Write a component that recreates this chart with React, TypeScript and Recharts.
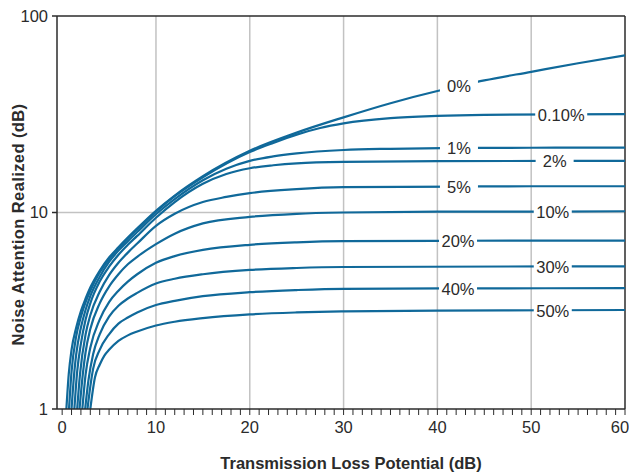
import {
  CartesianGrid,
  Line,
  LineChart,
  ReferenceDot,
  ReferenceLine,
  XAxis,
  YAxis,
} from "recharts";

type Pt = [number, number];

// [transmission loss potential dB, noise attenuation realized dB] per open area
const open0: Pt[] = [
  [0.45, 1], [0.7, 1.5], [1, 2.0], [1.5, 2.6], [2, 3.15], [2.5, 3.65], [3, 4.15],
  [4, 5.05], [5, 5.9], [6, 6.65], [7, 7.45], [8, 8.3], [10, 10.2], [12, 12.2],
  [15, 15.3], [20, 20.6], [25, 25.5], [30, 30.5], [35, 36], [40, 41.5],
  [42.3, 44], [45, 47], [50, 52], [55, 57.5], [60, 63],
];
const open01: Pt[] = [
  [0.73, 1], [1, 1.55], [1.5, 2.35], [2, 2.95], [2.5, 3.5], [3, 4.0], [4, 4.95],
  [5, 5.8], [6, 6.6], [7, 7.4], [8, 8.2], [10, 10.1], [12, 12.1], [15, 15.1],
  [20, 20.3], [22.5, 22.6], [25, 24.9], [27.5, 26.9], [30, 28.4], [35, 30.2],
  [40, 31.0], [45, 31.4], [53.2, 31.6], [60, 31.7],
];
const open1: Pt[] = [
  [1, 1], [1.3, 1.55], [1.5, 1.9], [2, 2.6], [2.5, 3.2], [3, 3.75], [4, 4.7],
  [5, 5.6], [6, 6.4], [7, 7.15], [8, 7.95], [10, 9.8], [12, 11.7], [15, 14.6],
  [17.5, 16.7], [20, 18.3], [22.5, 19.3], [25, 20.0], [30, 20.8], [35, 21.1],
  [42.3, 21.3], [50, 21.35], [60, 21.4],
];
const open2: Pt[] = [
  [1.3, 1], [1.6, 1.55], [2, 2.15], [2.5, 2.85], [3, 3.45], [4, 4.45], [5, 5.3],
  [6, 6.1], [7, 6.85], [8, 7.6], [10, 9.4], [12, 11.3], [15, 14.0], [17.5, 15.7],
  [20, 16.8], [22.5, 17.4], [25, 17.8], [30, 18.1], [40, 18.25], [52.5, 18.3],
  [60, 18.3],
];
const open5: Pt[] = [
  [1.6, 1], [1.9, 1.5], [2.5, 2.4], [3, 3.0], [4, 3.95], [5, 4.8], [6, 5.55],
  [7, 6.25], [8, 6.95], [10, 8.55], [12, 9.85], [15, 11.3], [17.5, 12.0],
  [20, 12.55], [25, 13.15], [30, 13.45], [42.3, 13.55], [50, 13.6], [60, 13.6],
];
const open10: Pt[] = [
  [1.85, 1], [2.2, 1.5], [2.5, 1.95], [3, 2.55], [4, 3.45], [5, 4.2], [6, 4.85],
  [7, 5.45], [8, 5.95], [10, 6.9], [12, 7.8], [15, 8.8], [20, 9.5], [25, 9.85],
  [30, 10.0], [40, 10.1], [52.3, 10.1], [60, 10.15],
];
const open20: Pt[] = [
  [2.15, 1], [2.5, 1.5], [3, 2.05], [4, 2.85], [5, 3.5], [6, 4.0], [7, 4.45],
  [8, 4.85], [10, 5.55], [12, 6.0], [15, 6.45], [20, 6.85], [25, 7.05],
  [30, 7.15], [42.2, 7.18], [60, 7.2],
];
const open30: Pt[] = [
  [2.45, 1], [2.8, 1.4], [3.3, 1.9], [4, 2.4], [5, 2.95], [6, 3.35], [7, 3.65],
  [8, 3.9], [10, 4.35], [12, 4.6], [15, 4.85], [20, 5.1], [25, 5.22],
  [30, 5.28], [52.3, 5.32], [60, 5.32],
];
const open40: Pt[] = [
  [2.7, 1], [3, 1.3], [3.3, 1.6], [4, 2.0], [5, 2.4], [6, 2.72], [7, 2.92],
  [8, 3.1], [10, 3.38], [12, 3.55], [15, 3.75], [20, 3.93], [25, 4.03],
  [30, 4.09], [42.2, 4.11], [60, 4.12],
];
const open50: Pt[] = [
  [3, 1], [3.5, 1.45], [4, 1.68], [4.5, 1.87], [5, 2.0], [6, 2.22], [7, 2.37],
  [8, 2.48], [10, 2.66], [12, 2.78], [15, 2.9], [20, 3.03], [25, 3.1],
  [30, 3.14], [40, 3.17], [52.3, 3.18], [60, 3.19],
];

const openLabels = ["0%", "0.10%", "1%", "2%", "5%", "10%", "20%", "30%", "40%", "50%"];
const openCurves = [open0, open01, open1, open2, open5, open10, open20, open30, open40, open50];
// TL position of each curve's inline tag
const labelTL = [42.3, 53.2, 42.3, 52.5, 42.3, 52.3, 42.2, 52.3, 42.2, 52.3];

const xTicks = Array.from({ length: 61 }, (_, i) => i);
const yTicks = [1, 10, 100];

const BLUE = "#10699a";
const INK = "#2b2b2b";
const FONT = "'Liberation Sans', Arial, sans-serif";

const CurveTag = (props: any) => {
  const { cx, cy, text } = props;
  const w = text.length > 3 ? 52 : 38;
  return (
    <g>
      <rect x={cx - w / 2} y={cy - 8} width={w} height={16} fill="#fff" />
      <text
        x={cx}
        y={cy}
        dy="0.38em"
        textAnchor="middle"
        fontFamily={FONT}
        fontSize={16.5}
        fill={INK}
      >
        {text}
      </text>
    </g>
  );
};

// only decades get a number; the last one is nudged in so it stays on the page
const XTick = ({ x, y, payload }: any) => {
  const v = payload.value as number;
  if (v % 10 !== 0) return <g />;
  return (
    <text
      x={v === 60 ? x - 5 : x}
      y={y}
      dy="0.71em"
      textAnchor="middle"
      fontFamily={FONT}
      fontSize={16.5}
      fill={INK}
    >
      {v}
    </text>
  );
};

const XTitle = ({ viewBox }: any) => (
  <text
    x={viewBox.x + viewBox.width / 2 + 10}
    y={viewBox.y + 60}
    textAnchor="middle"
    fontFamily={FONT}
    fontWeight="bold"
    fontSize={16.5}
    fill={INK}
  >
    Transmission Loss Potential (dB)
  </text>
);

const YTitle = ({ viewBox }: any) => {
  const cx = 18;
  const cy = viewBox.y + viewBox.height / 2 + 12;
  return (
    <text
      x={cx}
      y={cy}
      dy="0.35em"
      transform={`rotate(-90, ${cx}, ${cy})`}
      textAnchor="middle"
      fontFamily={FONT}
      fontWeight="bold"
      fontSize={16.5}
      letterSpacing={0.4}
      fill={INK}
    >
      Noise Attention Realized (dB)
    </text>
  );
};

export default function App() {
  return (
    <div style={{ position: "absolute", left: 0, top: 0, width: 629, height: 474, background: "#fff" }}>
      <LineChart width={629} height={474} margin={{ top: 16, right: 4, bottom: 0, left: 0 }}>
        <CartesianGrid
          verticalValues={[10, 20, 30, 40, 50]}
          horizontalValues={[10]}
          stroke="#c2c2c2"
          strokeWidth={1.5}
        />
        <XAxis
          dataKey="tl"
          type="number"
          domain={[-0.55, 60]}
          ticks={xTicks}
          interval={0}
          allowDataOverflow
          height={65}
          tickSize={6}
          tickMargin={6}
          tick={<XTick />}
          axisLine={{ stroke: INK, strokeWidth: 1.5 }}
          tickLine={{ stroke: INK, strokeWidth: 1 }}
          label={<XTitle />}
        />
        <YAxis
          dataKey="nr"
          type="number"
          scale="log"
          domain={[1, 100]}
          ticks={yTicks}
          allowDataOverflow
          width={57}
          tickSize={5}
          tickMargin={4}
          tick={{ fontFamily: FONT, fontSize: 16.5, fill: INK }}
          axisLine={{ stroke: INK, strokeWidth: 1.5 }}
          tickLine={{ stroke: INK, strokeWidth: 1.5 }}
          label={<YTitle />}
        />
        <ReferenceLine y={100} stroke={INK} strokeWidth={1.5} />
        <ReferenceLine x={60} stroke={INK} strokeWidth={1.5} />
        {openCurves.map((curve, i) => (
          <Line
            key={openLabels[i]}
            data={curve.map(([tl, nr]) => ({ tl, nr }))}
            dataKey="nr"
            type="monotone"
            stroke={BLUE}
            strokeWidth={2.2}
            dot={false}
            isAnimationActive={false}
          />
        ))}
        {openCurves.map((curve, i) => {
          const at = curve.find((p) => p[0] === labelTL[i]) as Pt;
          return (
            <ReferenceDot
              key={`tag-${openLabels[i]}`}
              x={at[0]}
              y={at[1]}
              r={0}
              ifOverflow="visible"
              shape={(p: any) => <CurveTag {...p} text={openLabels[i]} />}
            />
          );
        })}
      </LineChart>
    </div>
  );
}
